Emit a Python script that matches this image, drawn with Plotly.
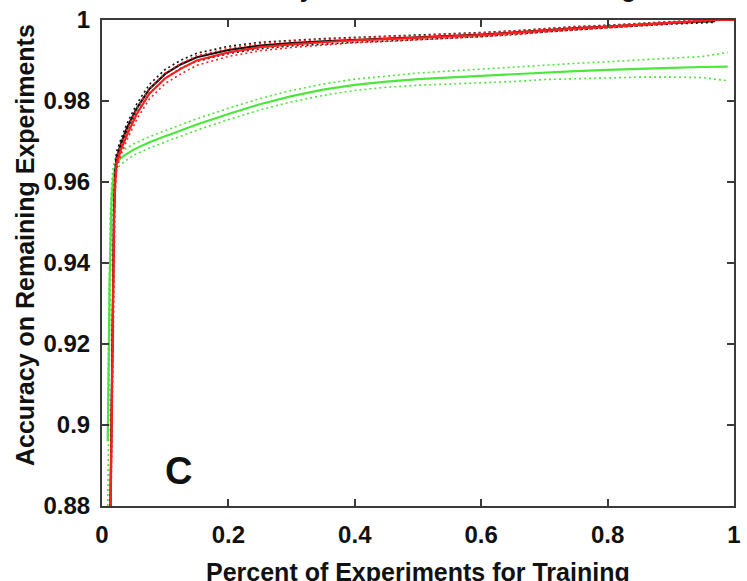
import plotly.graph_objects as go

# Fraction of experiments used for training (shared by black and red curves)
x_main = [0.013, 0.015, 0.017, 0.019, 0.021, 0.023, 0.03, 0.04, 0.055, 0.075,
          0.1, 0.125, 0.15, 0.2, 0.25, 0.3, 0.35, 0.4, 0.45, 0.5,
          0.55, 0.6, 0.65, 0.7, 0.75, 0.8, 0.85, 0.9, 0.95, 0.97, 1.0]

red_mean = [0.872, 0.895, 0.928, 0.950, 0.960, 0.9645, 0.9680, 0.9718, 0.9768, 0.9818,
            0.9856, 0.9880, 0.9900, 0.9920, 0.9933, 0.9940, 0.9945, 0.9950, 0.9953, 0.9956,
            0.9959, 0.9963, 0.9968, 0.9974, 0.9979, 0.9983, 0.9988, 0.9993, 0.9998, 1.0, 1.0]
red_upper = [0.878, 0.901, 0.933, 0.954, 0.962, 0.9660, 0.9692, 0.9730, 0.9781, 0.9831,
             0.9869, 0.9893, 0.9912, 0.9930, 0.9942, 0.9948, 0.9952, 0.9956, 0.9959, 0.9961,
             0.9964, 0.9968, 0.9973, 0.9978, 0.9983, 0.9986, 0.9991, 0.9995, 1.0, 1.0, 1.0]
red_lower = [0.866, 0.889, 0.923, 0.946, 0.958, 0.9630, 0.9668, 0.9706, 0.9755, 0.9805,
             0.9843, 0.9867, 0.9888, 0.9910, 0.9924, 0.9932, 0.9938, 0.9944, 0.9947, 0.9951,
             0.9954, 0.9958, 0.9963, 0.9970, 0.9975, 0.9980, 0.9985, 0.9991, 0.9996, 0.9999, 1.0]

# Black curve stops just short of x = 1
x_black = x_main[:30]
black_mean = [0.875, 0.900, 0.933, 0.953, 0.962, 0.9660, 0.9695, 0.9735, 0.9782, 0.9830,
              0.9867, 0.9891, 0.9908, 0.9926, 0.9937, 0.9943, 0.9947, 0.9951, 0.9954, 0.9957,
              0.9960, 0.9964, 0.9969, 0.9975, 0.9980, 0.9984, 0.9989, 0.9993, 0.9996, 0.9997]
black_upper = [0.880, 0.905, 0.937, 0.956, 0.964, 0.9675, 0.9706, 0.9746, 0.9793, 0.9841,
               0.9878, 0.9901, 0.9918, 0.9935, 0.9945, 0.9950, 0.9954, 0.9957, 0.9960, 0.9962,
               0.9965, 0.9969, 0.9973, 0.9979, 0.9984, 0.9987, 0.9992, 0.9996, 0.9999, 1.0]
black_lower = [0.870, 0.895, 0.929, 0.950, 0.960, 0.9645, 0.9684, 0.9724, 0.9771, 0.9819,
               0.9856, 0.9881, 0.9898, 0.9917, 0.9929, 0.9936, 0.9940, 0.9945, 0.9948, 0.9952,
               0.9955, 0.9959, 0.9965, 0.9971, 0.9976, 0.9981, 0.9986, 0.9990, 0.9993, 0.9994]

x_green = [0.009, 0.010, 0.011, 0.012, 0.013, 0.015, 0.017, 0.020, 0.025, 0.035,
           0.05, 0.075, 0.1, 0.125, 0.15, 0.2, 0.25, 0.3, 0.35, 0.4,
           0.45, 0.5, 0.55, 0.6, 0.65, 0.7, 0.75, 0.8, 0.85, 0.9,
           0.95, 0.99]
green_mean = [0.896, 0.905, 0.920, 0.935, 0.945, 0.955, 0.960, 0.963, 0.9652, 0.9665,
              0.9680, 0.9698, 0.9713, 0.9728, 0.9742, 0.9768, 0.9792, 0.9812, 0.9828, 0.9840,
              0.9848, 0.9854, 0.9858, 0.9862, 0.9866, 0.9871, 0.9874, 0.9877, 0.9880, 0.9882,
              0.9884, 0.9885]
green_upper = [0.905, 0.915, 0.930, 0.944, 0.952, 0.959, 0.963, 0.9655, 0.9668, 0.9680,
               0.9694, 0.9712, 0.9727, 0.9742, 0.9756, 0.9782, 0.9806, 0.9826, 0.9842, 0.9854,
               0.9862, 0.9869, 0.9874, 0.9879, 0.9884, 0.9889, 0.9893, 0.9897, 0.9901, 0.9905,
               0.9910, 0.9920]
green_lower = [0.880, 0.888, 0.905, 0.922, 0.935, 0.948, 0.956, 0.9605, 0.9636, 0.9650,
               0.9666, 0.9684, 0.9699, 0.9714, 0.9728, 0.9754, 0.9778, 0.9798, 0.9814, 0.9826,
               0.9834, 0.9839, 0.9842, 0.9845, 0.9848, 0.9853, 0.9855, 0.9857, 0.9859, 0.9859,
               0.9858, 0.9850]

x_ticks = [0, 0.2, 0.4, 0.6, 0.8, 1]
x_tick_labels = ["0", "0.2", "0.4", "0.6", "0.8", "1"]
y_ticks = [0.88, 0.9, 0.92, 0.94, 0.96, 0.98, 1]
y_tick_labels = ["0.88", "0.9", "0.92", "0.94", "0.96", "0.98", "1"]

title_text = "Accuracy versus Amount of Training"
x_title = "Percent of Experiments for Training"
y_title = "Accuracy on Remaining Experiments"
panel_label = "C"

RED = "#ff1e1e"
GREEN = "#4ce63c"
BLACK = "#111111"
FONT = "Liberation Sans, Arial, sans-serif"

fig = go.Figure()


def add_series(x, mean, upper, lower, color):
    for band in (upper, lower):
        fig.add_trace(go.Scatter(
            x=x, y=band, mode="lines", showlegend=False, hoverinfo="skip",
            line=dict(color=color, width=1.6, dash="2px,3px"),
        ))
    fig.add_trace(go.Scatter(
        x=x, y=mean, mode="lines", showlegend=False,
        line=dict(color=color, width=2.2),
    ))


add_series(x_green, green_mean, green_upper, green_lower, GREEN)
add_series(x_black, black_mean, black_upper, black_lower, BLACK)
add_series(x_main, red_mean, red_upper, red_lower, RED)

axis_common = dict(
    showgrid=False, zeroline=False,
    showline=True, linecolor="#3a3a3a", linewidth=2, mirror="ticks",
    ticks="inside", ticklen=7, tickwidth=2, tickcolor="#3a3a3a",
    tickfont=dict(family=FONT, size=24, color="#111111", weight="bold"),
)

fig.update_xaxes(range=[0, 1], tickvals=x_ticks, ticktext=x_tick_labels,
                 ticklabelstandoff=6, **axis_common)
fig.update_yaxes(range=[0.88, 1], tickvals=y_ticks, ticktext=y_tick_labels,
                 ticklabelstandoff=5, **axis_common)

fig.add_annotation(x=0.1217, y=0.8886, xref="x", yref="y", text=panel_label,
                   showarrow=False, xanchor="center", yanchor="middle",
                   font=dict(family=FONT, size=38, color="#111111", weight="bold"))

fig.add_annotation(x=0.5, y=0, xref="paper", yref="paper", text=x_title,
                   showarrow=False, xanchor="center", yanchor="middle", yshift=-66,
                   font=dict(family=FONT, size=25, color="#111111", weight="bold"))

fig.add_annotation(x=0, y=0.5, xref="paper", yref="paper", text=y_title,
                   showarrow=False, textangle=-90, xanchor="center", yanchor="middle",
                   xshift=-77, yshift=18,
                   font=dict(family=FONT, size=25, color="#111111", weight="bold"))

fig.add_annotation(x=0.5, y=1, xref="paper", yref="paper", text=title_text,
                   showarrow=False, xanchor="center", yanchor="bottom", yshift=16,
                   font=dict(family=FONT, size=25, color="#111111", weight="bold"))

fig.update_layout(
    width=747, height=581,
    margin=dict(l=102, r=6, t=17, b=75),
    paper_bgcolor="white", plot_bgcolor="white",
    showlegend=False,
)

fig.write_html("out.html")
